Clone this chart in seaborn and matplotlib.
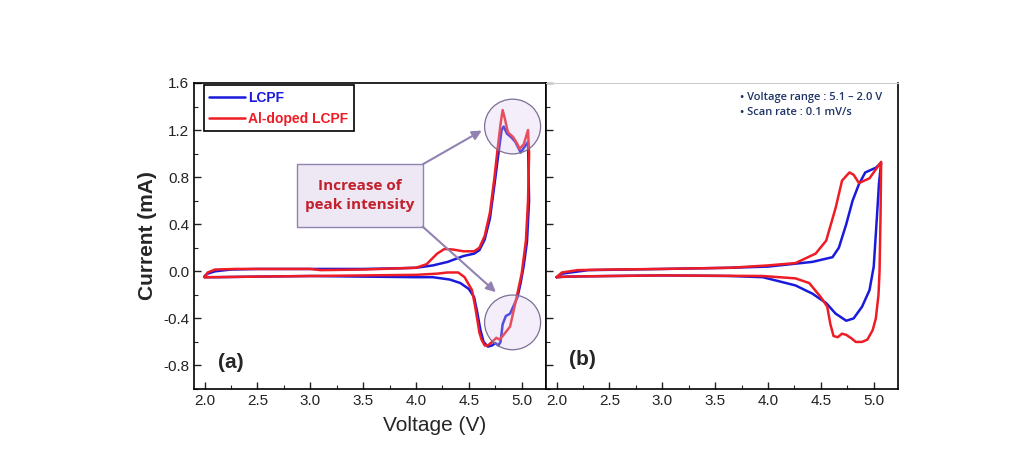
import matplotlib
matplotlib.use("Agg")
import matplotlib.pyplot as plt
from matplotlib.patches import Ellipse, Rectangle
from matplotlib.ticker import MultipleLocator
import seaborn as sns

# ---- data (voltage V, current mA), one closed CV loop per series
a_lcpf_v = [2.0, 2.03, 2.1, 2.25, 2.5, 3.0, 3.5, 3.8, 4.0, 4.16, 4.3, 4.45, 4.55, 4.6, 4.65, 4.7,
            4.74, 4.78, 4.81, 4.83, 4.86, 4.9, 4.94, 4.99, 5.03, 5.06, 5.07, 5.05, 5.02, 4.99,
            4.96, 4.92, 4.89, 4.85, 4.82, 4.8, 4.78, 4.75, 4.72, 4.68, 4.64, 4.61, 4.58, 4.55,
            4.5, 4.42, 4.32, 4.16, 4.0, 3.5, 3.0, 2.5, 2.1, 2.0]
a_lcpf_i = [-0.04, -0.02, 0.0, 0.015, 0.02, 0.02, 0.02, 0.025, 0.03, 0.05, 0.08, 0.13, 0.15, 0.18,
            0.27, 0.45, 0.72, 1.0, 1.2, 1.23, 1.17, 1.14, 1.1, 1.01, 1.06, 1.1, 0.6, 0.25, 0.05,
            -0.1, -0.22, -0.3, -0.36, -0.38, -0.45, -0.6, -0.63, -0.61, -0.63, -0.64, -0.6, -0.5,
            -0.35, -0.22, -0.15, -0.1, -0.07, -0.05, -0.05, -0.045, -0.04, -0.045, -0.05, -0.05]

a_al_v = [2.0, 2.03, 2.1, 2.3, 3.0, 3.1, 3.5, 4.0, 4.1, 4.2, 4.27, 4.35, 4.45, 4.55, 4.6, 4.65,
          4.7, 4.74, 4.77, 4.8, 4.82, 4.84, 4.87, 4.92, 4.96, 4.98, 5.02, 5.06, 5.07, 5.06, 5.04,
          5.0, 4.95, 4.89, 4.82, 4.79, 4.76, 4.72, 4.68, 4.65, 4.62, 4.6, 4.56, 4.53, 4.46, 4.4,
          4.3, 4.2, 4.0, 3.0, 2.5, 2.1, 2.0]
a_al_i = [-0.05, -0.01, 0.015, 0.02, 0.02, 0.01, 0.015, 0.03, 0.06, 0.15, 0.19, 0.185, 0.17, 0.17,
          0.2, 0.3, 0.5, 0.78, 1.02, 1.25, 1.37, 1.3, 1.18, 1.14, 1.08, 1.04, 1.08, 1.2, 1.0, 0.6,
          0.26, -0.02, -0.23, -0.47, -0.55, -0.58, -0.565, -0.6, -0.63, -0.63, -0.58, -0.52, -0.3,
          -0.16, -0.05, -0.01, -0.01, -0.02, -0.03, -0.04, -0.045, -0.05, -0.05]

b_lcpf_v = [2.0, 2.05, 2.3, 3.0, 3.64, 4.0, 4.42, 4.61, 4.67, 4.74, 4.8, 4.86, 4.92, 5.02, 5.07,
            5.05, 5.03, 5.0, 4.96, 4.89, 4.81, 4.74, 4.64, 4.55, 4.42, 4.26, 3.95, 3.64, 3.0,
            2.5, 2.1, 2.0]
b_lcpf_i = [-0.05, -0.02, 0.01, 0.02, 0.03, 0.04, 0.08, 0.12, 0.2, 0.4, 0.6, 0.74, 0.84, 0.88, 0.92,
            0.75, 0.46, 0.04, -0.16, -0.3, -0.4, -0.42, -0.36, -0.27, -0.19, -0.12, -0.05, -0.04,
            -0.035, -0.04, -0.045, -0.05]

b_al_v = [2.0, 2.05, 2.2, 2.5, 3.0, 3.64, 4.0, 4.26, 4.45, 4.55, 4.64, 4.7, 4.77, 4.81, 4.86, 4.96,
          5.07, 5.065, 5.055, 5.045, 5.02, 4.99, 4.94, 4.89, 4.83, 4.79, 4.74, 4.7, 4.66, 4.62,
          4.59, 4.56, 4.5, 4.39, 4.26, 3.95, 3.0, 2.5, 2.1, 2.0]
b_al_i = [-0.05, -0.01, 0.01, 0.015, 0.02, 0.03, 0.05, 0.07, 0.15, 0.26, 0.54, 0.77, 0.84, 0.82,
          0.75, 0.79, 0.93, 0.5, 0.0, -0.2, -0.4, -0.5, -0.58, -0.6, -0.6, -0.57, -0.54, -0.53,
          -0.56, -0.55, -0.45, -0.3, -0.22, -0.1, -0.06, -0.04, -0.035, -0.04, -0.045, -0.05]

series_names = ["LCPF", "Al-doped LCPF"]
series_colors = ["#1a1adc", "#ee1c25"]

sns.set_style("ticks")
plt.rcParams["font.family"] = ["Liberation Sans", "DejaVu Sans"]
plt.rcParams["axes.unicode_minus"] = False

fig = plt.figure(figsize=(10.16, 4.57), dpi=100)
ax1 = fig.add_axes([0.1909, 0.1488, 0.3465, 0.6696])
ax2 = fig.add_axes([0.5374, 0.1488, 0.3465, 0.6696], sharey=ax1)

panels = [(ax1, (a_lcpf_v, a_lcpf_i), (a_al_v, a_al_i)),
          (ax2, (b_lcpf_v, b_lcpf_i), (b_al_v, b_al_i))]
for ax, blue, red in panels:
    for (v, i), name, col in zip([blue, red], series_names, series_colors):
        sns.lineplot(x=v, y=i, sort=False, estimator=None, ax=ax, color=col,
                     lw=1.8, label=name, legend=False)
    ax.set_xlim(1.9, 5.23)
    ax.set_ylim(-1.0, 1.6)
    ax.xaxis.set_major_locator(MultipleLocator(0.5))
    ax.xaxis.set_minor_locator(MultipleLocator(0.25))
    ax.yaxis.set_major_locator(MultipleLocator(0.4))
    ax.yaxis.set_minor_locator(MultipleLocator(0.2))
    ax.tick_params(which="both", direction="in", top=False, right=False,
                   labelsize=11, colors="#222222")
    ax.tick_params(which="major", length=5, width=1)
    ax.tick_params(which="minor", length=3, width=0.8)
    for sp in ax.spines.values():
        sp.set_linewidth(1.2)
        sp.set_color("black")
    ax.set_xlabel("")
    ax.set_ylabel("")

ax2.tick_params(labelleft=False)
ax2.spines["top"].set_color("#cccccc")
ax2.spines["top"].set_linewidth(0.8)

ax1.set_ylabel("Current (mA)", fontsize=15, fontweight="bold", labelpad=4)
fig.text(0.428, 0.07, "Voltage (V)", fontsize=15, ha="center", va="center")

leg = ax1.legend(loc="upper left", bbox_to_anchor=(0.028, 0.993), borderaxespad=0,
                 fancybox=False, edgecolor="black", framealpha=1, handlelength=2.6,
                 handletextpad=0.2, borderpad=0.4, labelspacing=0.5,
                 prop={"size": 10, "weight": "bold"})
leg.get_frame().set_linewidth(1.2)
for txt, col in zip(leg.get_texts(), series_colors):
    txt.set_color(col)

# annotation box, circles and arrows in panel (a)
purple = "#9282b2"
ax1.add_patch(Rectangle((2.871, 0.379), 1.193, 0.53, facecolor="#eee7f4", edgecolor=purple,
                        lw=1.0, zorder=4))
ax1.text(3.47, 0.645, "Increase of\npeak intensity", ha="center", va="center",
         fontsize=11, fontweight="bold", color="#c2202c", family="Open Sans",
         linespacing=1.5, zorder=5)
for cy in [1.23, -0.434]:
    ax1.add_patch(Ellipse((4.914, cy), 0.53, 0.465, facecolor="#d9c8ec", alpha=0.3,
                          edgecolor="none", zorder=3))
    ax1.add_patch(Ellipse((4.914, cy), 0.53, 0.465, facecolor="none", edgecolor="#7c6e96",
                          lw=0.9, zorder=3))
arrow = dict(arrowstyle="-|>", color=purple, lw=1.5, mutation_scale=14, shrinkA=0, shrinkB=0)
ax1.annotate("", xy=(4.623, 1.196), xytext=(4.064, 0.909), arrowprops=arrow, zorder=4)
ax1.annotate("", xy=(4.756, -0.177), xytext=(4.064, 0.379), arrowprops=arrow, zorder=4)

ax1.text(0.068, 0.088, "(a)", transform=ax1.transAxes, fontsize=15, fontweight="bold",
         va="center", ha="left")
ax2.text(0.065, 0.095, "(b)", transform=ax2.transAxes, fontsize=15, fontweight="bold",
         va="center", ha="left")

ax2.text(0.551, 0.954, "\u2022 Voltage range : 5.1 \u2013 2.0 V", transform=ax2.transAxes,
         fontsize=8, color="#1f3466", family="Open Sans", fontweight="semibold", va="center")
ax2.text(0.551, 0.902, "\u2022 Scan rate : 0.1 mV/s", transform=ax2.transAxes,
         fontsize=8, color="#1f3466", family="Open Sans", fontweight="semibold", va="center")

fig.savefig("out.png", dpi=100, facecolor="white")
